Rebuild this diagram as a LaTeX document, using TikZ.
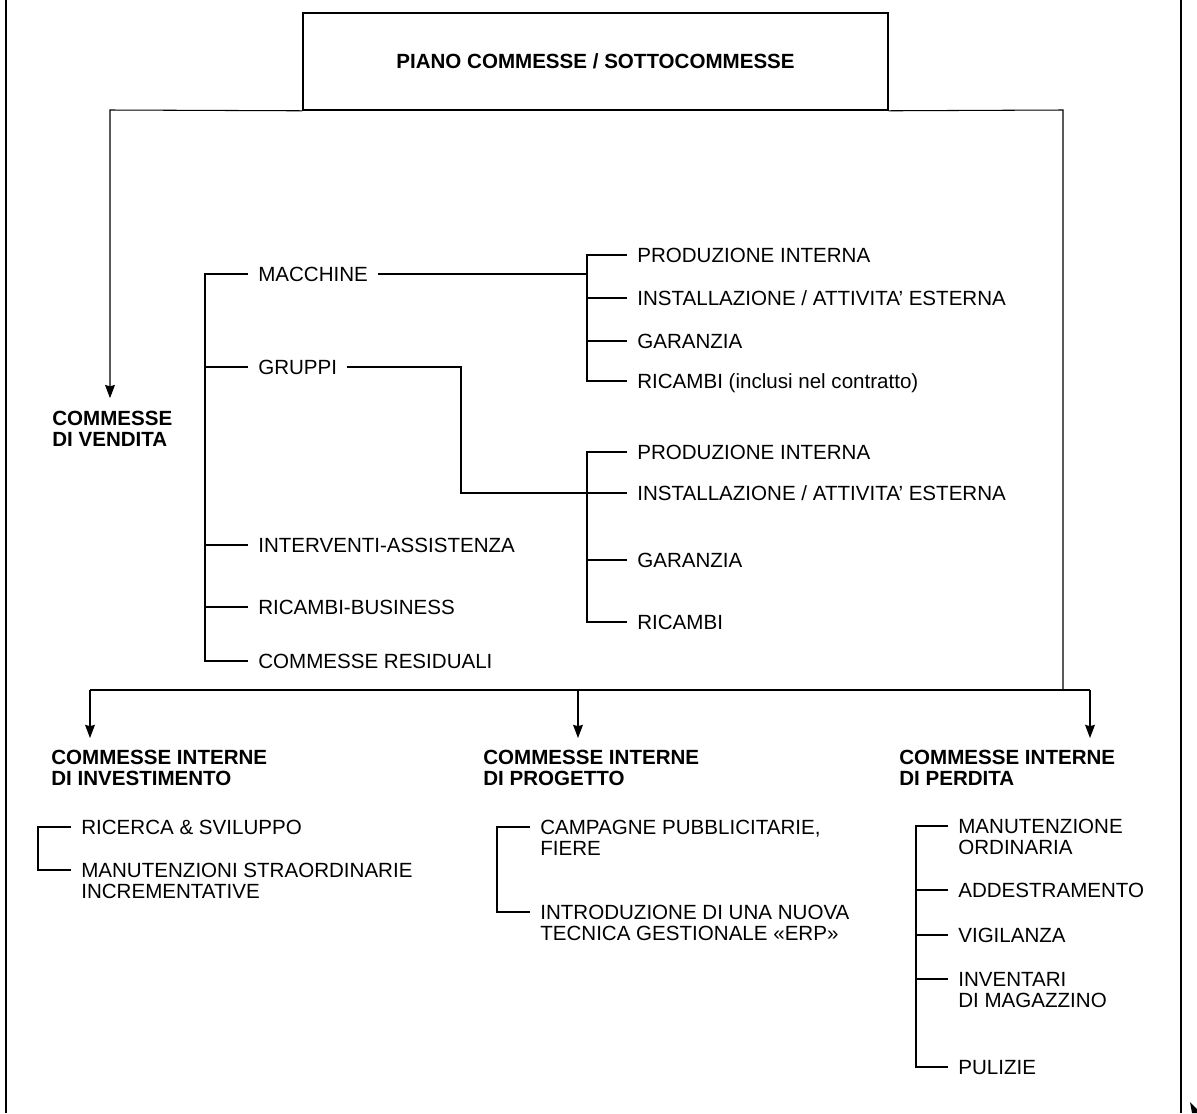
\documentclass[tikz,border=0pt]{standalone}
\usepackage{fontspec}
\setmainfont{Liberation Sans}
\usetikzlibrary{arrows.meta,calc}
\newcommand{\lfont}{\fontsize{11.7}{11.9}\selectfont}
\begin{document}
\begin{tikzpicture}[x=0.02cm,y=-0.02cm,
  line/.style={line width=0.6pt},
  frame/.style={line width=0.9pt},
  arr/.style={line width=0.6pt,-{Stealth[length=7.5pt,width=5.6pt,inset=0.8pt]}},
  lbl/.style={font=\lfont, inner xsep=5.67pt, inner ysep=0pt, text height=8.4pt, text depth=0pt, anchor=west},
  mlbl/.style={font=\lfont, inner xsep=5.67pt, inner ysep=0pt, align=left, anchor=north west},
  hdr/.style={font=\lfont\bfseries, inner sep=0pt, align=left, anchor=north west},
  titlebox/.style={draw, line width=0.9pt, minimum width=11.7cm, minimum height=1.94cm, font=\lfont\bfseries, inner sep=0pt}
]
\useasboundingbox (0,0) rectangle (1197,1113);

% outer frame lines
\coordinate (fl1) at (6,0); \coordinate (fl2) at (6,1113);
\coordinate (fr1) at (1181,0); \coordinate (fr2) at (1181,1113);
\draw[frame] (fl1) -- (fl2);
\draw[frame] (fr1) -- (fr2);
\fill (1190,1102) -- (1197,1109) -- (1197,1113) -- (1192,1113) -- cycle;

% title
\node[titlebox] (title) at (595.5,61.5) {PIANO COMMESSE / SOTTOCOMMESSE};

% headers
\node[hdr] (vend) at (52,410.6) {COMMESSE\\DI VENDITA};
\node[hdr] (hinv) at (51,749.6) {COMMESSE INTERNE\\DI INVESTIMENTO};
\node[hdr] (hprog) at (483,749.6) {COMMESSE INTERNE\\DI PROGETTO};
\node[hdr] (hperd) at (899,749.6) {COMMESSE INTERNE\\DI PERDITA};

% top-level connectors
\coordinate (tl) at (110,110);
\coordinate (tr) at (1063,110);
\coordinate (br) at (1063,690);
\coordinate (bl) at (90,690);
\coordinate (bm) at (578,690);
\coordinate (bR) at (1090,690);
\draw[arr, shorten >=7.1pt] (title.south west) -- (tl) -- (tl |- vend.north);
\draw[line] (title.south east) -- (tr) -- (br);
\draw[line] (bl) -- (bR);
\draw[arr, shorten >=6.6pt] (bl) -- (bl |- hinv.north);
\draw[arr, shorten >=6.6pt] (bm) -- (bm |- hprog.north);
\draw[arr, shorten >=6.6pt] (bR) -- (bR |- hperd.north);

% left tree
\node[lbl] (mac) at (248,274) {MACCHINE};
\node[lbl] (gru) at (248,367) {GRUPPI};
\node[lbl] (int) at (248,545) {INTERVENTI-ASSISTENZA};
\node[lbl] (rb) at (248,607) {RICAMBI-BUSINESS};
\node[lbl] (res) at (248,661) {COMMESSE RESIDUALI};
\coordinate (tx) at (205,0);
\draw[line] (mac.west) -| (tx |- res.west) -- (res.west);
\foreach \n in {gru,int,rb} \draw[line] (\n.west -| tx) -- (\n.west);

% first right bracket
\node[lbl] (pi1) at (627,255) {PRODUZIONE INTERNA};
\node[lbl] (in1) at (627,298) {INSTALLAZIONE / ATTIVITA’ ESTERNA};
\node[lbl] (ga1) at (627,341) {GARANZIA};
\node[lbl] (ri1) at (627,381) {RICAMBI (inclusi nel contratto)};
\coordinate (b1) at (587,0);
\draw[line] (pi1.west) -| (b1 |- ri1.west) -- (ri1.west);
\foreach \n in {in1,ga1} \draw[line] (\n.west -| b1) -- (\n.west);
\draw[line] (mac.east) -- (mac.east -| b1);

% second right bracket
\node[lbl] (pi2) at (627,452) {PRODUZIONE INTERNA};
\node[lbl] (in2) at (627,493) {INSTALLAZIONE / ATTIVITA’ ESTERNA};
\node[lbl] (ga2) at (627,560) {GARANZIA};
\node[lbl] (ri2) at (627,622) {RICAMBI};
\draw[line] (pi2.west) -| (b1 |- ri2.west) -- (ri2.west);
\draw[line] (ga2.west -| b1) -- (ga2.west);
\coordinate (gx) at (461,0);
\draw[line] (gru.east) -| (gx |- in2.west) -- (in2.west);

% investimento
\node[lbl] (rs) at (71,827) {RICERCA \& SVILUPPO};
\node[mlbl] (ms) at (71,862.6) {MANUTENZIONI STRAORDINARIE\\INCREMENTATIVE};
\coordinate (ms-t) at ($(ms.north west)+(0,7.4)$);
\coordinate (bx1) at (38,0);
\draw[line] (rs.west) -| (bx1 |- ms-t) -- (ms-t);

% progetto
\node[mlbl] (cp) at (530,819.6) {CAMPAGNE PUBBLICITARIE,\\FIERE};
\node[mlbl] (it) at (530,904.6) {INTRODUZIONE DI UNA NUOVA\\TECNICA GESTIONALE «ERP»};
\coordinate (cp-t) at ($(cp.north west)+(0,7.4)$);
\coordinate (it-t) at ($(it.north west)+(0,7.4)$);
\coordinate (bx2) at (497,0);
\draw[line] (cp-t) -| (bx2 |- it-t) -- (it-t);

% perdita
\node[mlbl] (mo) at (948,818.6) {MANUTENZIONE\\ORDINARIA};
\node[lbl] (ad) at (948,890) {ADDESTRAMENTO};
\node[lbl] (vi) at (948,935) {VIGILANZA};
\node[mlbl] (iv) at (948,971.6) {INVENTARI\\DI MAGAZZINO};
\node[lbl] (pu) at (948,1067) {PULIZIE};
\coordinate (mo-t) at ($(mo.north west)+(0,7.4)$);
\coordinate (iv-t) at ($(iv.north west)+(0,7.4)$);
\coordinate (bx3) at (916,0);
\draw[line] (mo-t) -| (bx3 |- pu.west) -- (pu.west);
\draw[line] (ad.west -| bx3) -- (ad.west);
\draw[line] (vi.west -| bx3) -- (vi.west);
\draw[line] (iv-t -| bx3) -- (iv-t);
\end{tikzpicture}
\end{document}
